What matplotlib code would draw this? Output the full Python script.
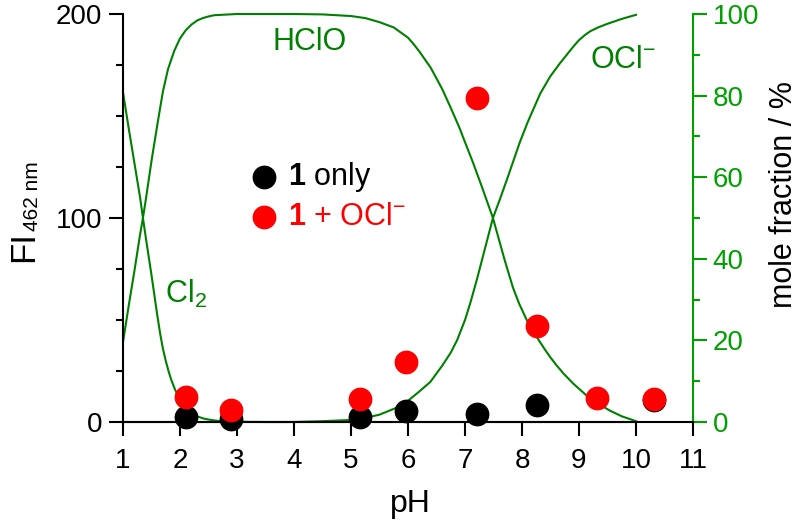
import matplotlib

matplotlib.use("Agg")
from matplotlib import pyplot as plt
from matplotlib.ticker import MultipleLocator

# fluorescence intensity at 462 nm vs pH
phOnly: list = [2.1, 2.9, 5.15, 5.96, 7.21, 8.26, 10.32]
fiOnly: list = [2.5, 1.5, 2.5, 5.4, 3.9, 8.3, 11.0]
phOcl: list = [2.1, 2.9, 5.15, 5.96, 7.21, 8.27, 9.32, 10.32]
fiOcl: list = [12.2, 5.9, 11.3, 29.4, 158.8, 47.0, 11.7, 11.3]

# mole fraction (%) of chlorine species
phCl2: list = [1.0, 1.1, 1.2, 1.3, 1.35, 1.4, 1.5, 1.6, 1.65, 1.7, 1.75, 1.8, 1.85,
               1.9, 1.95, 2.0, 2.05, 2.1, 2.2, 2.3, 2.4, 2.5, 2.65, 2.8, 3.0, 3.5, 10.0]
molCl2: list = [80.8, 72.0, 63.5, 55.0, 50.0, 45.2, 36.0, 26.3, 21.8, 18.0, 15.0, 12.4,
                10.2, 8.4, 6.8, 5.4, 4.3, 3.5, 2.3, 1.4, 0.9, 0.6, 0.3, 0.15, 0.05, 0.0, 0.0]
phHclo: list = [1.0, 1.1, 1.2, 1.3, 1.35, 1.4, 1.5, 1.61, 1.7, 1.79, 1.9, 2.0, 2.1, 2.2,
                2.3, 2.4, 2.5, 2.6, 3.0, 4.0, 4.5, 5.0, 5.25, 5.5, 5.75, 6.0, 6.1, 6.2,
                6.4, 6.6, 6.75, 6.9, 7.0, 7.14, 7.3, 7.49, 7.6, 7.7, 7.84, 7.95, 8.1,
                8.26, 8.4, 8.5, 8.6, 8.72, 8.9, 9.14, 9.3, 9.54, 9.75, 10.0]
molHclo: list = [19.6, 28.5, 37.0, 46.0, 50.0, 54.5, 64.0, 73.5, 81.0, 86.5, 91.0, 94.0,
                 96.0, 97.4, 98.4, 99.0, 99.4, 99.7, 100.0, 100.0, 99.9, 99.5, 99.0,
                 98.0, 96.7, 94.2, 92.6, 90.8, 86.8, 81.6, 77.0, 72.2, 68.6, 63.6, 57.5,
                 50.0, 44.5, 39.5, 33.0, 29.0, 24.5, 20.8, 17.8, 15.8, 14.0, 12.0, 9.4,
                 6.4, 4.8, 2.8, 1.4, 0.2]
phOclm: list = [1.0, 4.0, 4.5, 5.0, 5.25, 5.5, 5.8, 6.0, 6.2, 6.39, 6.6, 6.75, 6.86,
                7.0, 7.1, 7.21, 7.35, 7.49, 7.61, 7.75, 7.96, 8.1, 8.32, 8.5, 8.67,
                8.9, 9.0, 9.1, 9.2, 9.35, 9.5, 9.75, 10.0]
molOclm: list = [0.0, 0.0, 0.2, 0.5, 1.0, 1.8, 3.5, 5.2, 7.5, 9.8, 13.8, 17.0, 20.0,
                 25.0, 29.5, 35.0, 42.5, 50.0, 54.5, 60.0, 68.5, 73.5, 80.5, 84.8,
                 88.0, 92.0, 93.6, 94.8, 95.8, 96.8, 97.6, 98.8, 99.8]

GREEN_LINE: str = "#008000"
GREEN_AXIS: str = "#00a000"


def plot(outputFilePath: str) -> None:
    plt.rcParams["font.family"] = ["Liberation Sans", "DejaVu Sans"]
    plt.rcParams["mathtext.fontset"] = "custom"
    plt.rcParams["mathtext.rm"] = "Liberation Sans"
    plt.rcParams["mathtext.it"] = "Liberation Sans:italic"
    plt.rcParams["mathtext.bf"] = "Liberation Sans:bold"

    fig = plt.figure(figsize=(7.99, 5.22), dpi=100)
    W, H = 799.0, 522.0
    ax = fig.add_axes([123 / W, 100 / H, 570 / W, 408 / H])
    ax2 = ax.twinx()

    ax.set_xlim(1, 11)
    ax.set_ylim(0, 200)
    ax2.set_ylim(0, 100)

    # speciation curves on the right axis
    for xs, ys in ((phCl2, molCl2), (phHclo, molHclo), (phOclm, molOclm)):
        ax2.plot(xs, ys, color=GREEN_LINE, lw=1.5, clip_on=False, zorder=3,
                 solid_joinstyle="round")

    black = ax.scatter(phOnly, fiOnly, s=260, color="black", zorder=5, clip_on=False)
    red = ax.scatter(phOcl, fiOcl, s=260, color="#ff0000", zorder=6, clip_on=False)
    ax.set_zorder(ax2.get_zorder() + 1)
    ax.patch.set_visible(False)

    ax2.text(3.63, 91.2, "HClO", color=GREEN_LINE, fontsize=22, va="baseline")
    ax2.text(9.19, 86.8, "OCl$^{-}$", color=GREEN_LINE, fontsize=22, va="baseline")
    ax2.text(1.74, 29.2, "Cl$_{2}$", color=GREEN_LINE, fontsize=22, va="baseline")

    ax.legend(
        handles=[black, red],
        labels=[r"$\mathbf{1}$ only", r"$\mathbf{1}$ + OCl$^{-}$"],
        labelcolor=["black", "#ff0000"],
        loc="upper left",
        bbox_to_anchor=(0.22, 0.642),
        frameon=False,
        fontsize=22,
        handlelength=1.0,
        handletextpad=0.3,
        labelspacing=0.25,
        borderpad=0,
        borderaxespad=0,
    )

    for a in (ax, ax2):
        a.spines["top"].set_visible(False)
        for s in a.spines.values():
            s.set_linewidth(1.5)
    ax.spines["right"].set_visible(False)
    ax2.spines["left"].set_visible(False)
    ax2.spines["bottom"].set_visible(False)
    ax2.spines["right"].set_color(GREEN_AXIS)

    ax.set_xticks(range(1, 12))
    ax.yaxis.set_major_locator(MultipleLocator(100))
    ax.yaxis.set_minor_locator(MultipleLocator(25))
    ax2.yaxis.set_major_locator(MultipleLocator(20))
    ax2.yaxis.set_minor_locator(MultipleLocator(10))

    ax.tick_params(which="major", length=10, width=1.5, labelsize=20, pad=5)
    ax.tick_params(which="minor", length=5, width=1.5)
    ax.tick_params(axis="x", pad=9)
    ax2.tick_params(which="major", length=10, width=1.5, labelsize=20, pad=4,
                    color=GREEN_AXIS, labelcolor=GREEN_AXIS)
    ax2.tick_params(which="minor", length=5, width=1.5, color=GREEN_AXIS)

    # axis titles placed by hand (FI with a smaller subscript)
    fig.text(410 / W, 1 - 512 / H, "pH", fontsize=23, ha="center", va="baseline")
    fig.text(33 / W, 1 - 262 / H, "FI", fontsize=25, rotation=90,
             rotation_mode="anchor", ha="left", va="baseline")
    fig.text(38 / W, 1 - 231 / H, "462 nm", fontsize=15, rotation=90,
             rotation_mode="anchor", ha="left", va="baseline")
    fig.text(792 / W, 1 - 195 / H, "mole fraction / %", fontsize=22, rotation=90,
             rotation_mode="anchor", ha="center", va="baseline")

    fig.savefig(outputFilePath, dpi=100)


def main() -> None:
    plot(outputFilePath="out.png")


if __name__ == "__main__":
    main()
